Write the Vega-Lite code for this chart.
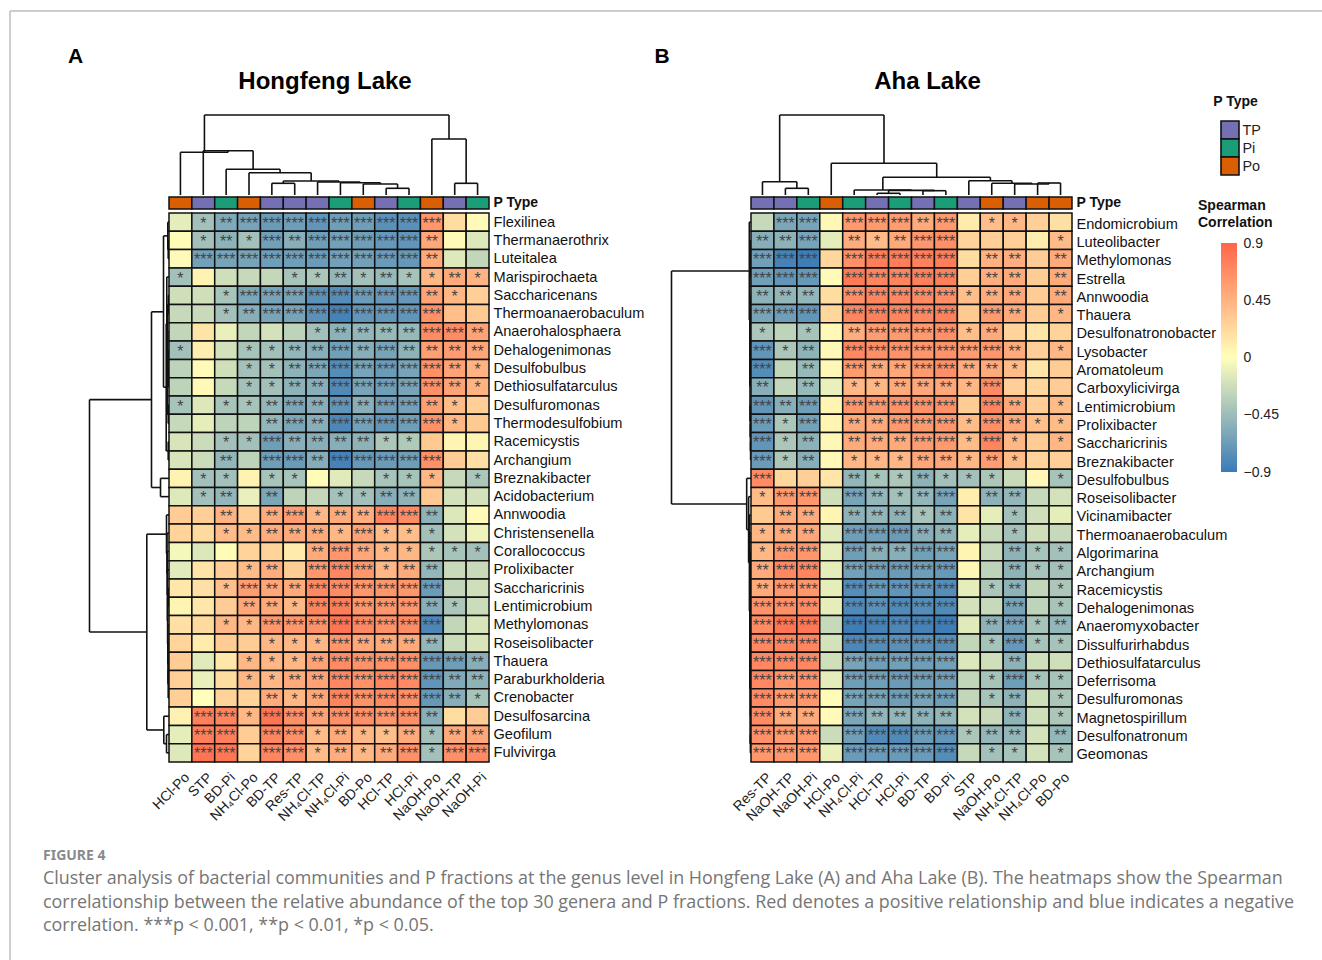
{"$schema":"https://vega.github.io/schema/vega-lite/v6.json","padding":{"left":7,"top":8,"right":0,"bottom":0},"bounds":"flush","spacing":0,"columns":8,"align":"each","config":{"view":{"stroke":null},"axis":{"domain":false,"ticks":false,"grid":false,"title":null,"labelFont":"Liberation Sans"}},
"datasets":{
"sp":[{}],
"hA":[
{"g":"Flexilinea","f":"HCl-Po","r":-0.12},{"g":"Flexilinea","f":"STP","r":-0.42,"s":"*"},{"g":"Flexilinea","f":"BD-Pi","r":-0.58,"s":"**"},{"g":"Flexilinea","f":"NH₄Cl-Po","r":-0.62,"s":"***"},{"g":"Flexilinea","f":"BD-TP","r":-0.68,"s":"***"},{"g":"Flexilinea","f":"Res-TP","r":-0.66,"s":"***"},{"g":"Flexilinea","f":"NH₄Cl-TP","r":-0.72,"s":"***"},{"g":"Flexilinea","f":"NH₄Cl-Pi","r":-0.66,"s":"***"},{"g":"Flexilinea","f":"BD-Po","r":-0.66,"s":"***"},{"g":"Flexilinea","f":"HCl-TP","r":-0.75,"s":"***"},{"g":"Flexilinea","f":"HCl-Pi","r":-0.75,"s":"***"},{"g":"Flexilinea","f":"NaOH-Po","r":0.62,"s":"***"},{"g":"Flexilinea","f":"NaOH-TP","r":0.2},{"g":"Flexilinea","f":"NaOH-Pi","r":0.03},
{"g":"Thermanaerothrix","f":"HCl-Po","r":0.02},{"g":"Thermanaerothrix","f":"STP","r":-0.42,"s":"*"},{"g":"Thermanaerothrix","f":"BD-Pi","r":-0.52,"s":"**"},{"g":"Thermanaerothrix","f":"NH₄Cl-Po","r":-0.42,"s":"*"},{"g":"Thermanaerothrix","f":"BD-TP","r":-0.65,"s":"***"},{"g":"Thermanaerothrix","f":"Res-TP","r":-0.55,"s":"**"},{"g":"Thermanaerothrix","f":"NH₄Cl-TP","r":-0.66,"s":"***"},{"g":"Thermanaerothrix","f":"NH₄Cl-Pi","r":-0.64,"s":"***"},{"g":"Thermanaerothrix","f":"BD-Po","r":-0.66,"s":"***"},{"g":"Thermanaerothrix","f":"HCl-TP","r":-0.7,"s":"***"},{"g":"Thermanaerothrix","f":"HCl-Pi","r":-0.72,"s":"***"},{"g":"Thermanaerothrix","f":"NaOH-Po","r":0.52,"s":"**"},{"g":"Thermanaerothrix","f":"NaOH-TP","r":0.03},{"g":"Thermanaerothrix","f":"NaOH-Pi","r":-0.15},
{"g":"Luteitalea","f":"HCl-Po","r":0.03},{"g":"Luteitalea","f":"STP","r":-0.64,"s":"***"},{"g":"Luteitalea","f":"BD-Pi","r":-0.62,"s":"***"},{"g":"Luteitalea","f":"NH₄Cl-Po","r":-0.62,"s":"***"},{"g":"Luteitalea","f":"BD-TP","r":-0.66,"s":"***"},{"g":"Luteitalea","f":"Res-TP","r":-0.66,"s":"***"},{"g":"Luteitalea","f":"NH₄Cl-TP","r":-0.68,"s":"***"},{"g":"Luteitalea","f":"NH₄Cl-Pi","r":-0.64,"s":"***"},{"g":"Luteitalea","f":"BD-Po","r":-0.64,"s":"***"},{"g":"Luteitalea","f":"HCl-TP","r":-0.68,"s":"***"},{"g":"Luteitalea","f":"HCl-Pi","r":-0.7,"s":"***"},{"g":"Luteitalea","f":"NaOH-Po","r":0.5,"s":"**"},{"g":"Luteitalea","f":"NaOH-TP","r":-0.15},{"g":"Luteitalea","f":"NaOH-Pi","r":-0.28},
{"g":"Marispirochaeta","f":"HCl-Po","r":-0.42,"s":"*"},{"g":"Marispirochaeta","f":"STP","r":0.07},{"g":"Marispirochaeta","f":"BD-Pi","r":-0.22},{"g":"Marispirochaeta","f":"NH₄Cl-Po","r":-0.26},{"g":"Marispirochaeta","f":"BD-TP","r":-0.27},{"g":"Marispirochaeta","f":"Res-TP","r":-0.4,"s":"*"},{"g":"Marispirochaeta","f":"NH₄Cl-TP","r":-0.38,"s":"*"},{"g":"Marispirochaeta","f":"NH₄Cl-Pi","r":-0.5,"s":"**"},{"g":"Marispirochaeta","f":"BD-Po","r":-0.42,"s":"*"},{"g":"Marispirochaeta","f":"HCl-TP","r":-0.48,"s":"**"},{"g":"Marispirochaeta","f":"HCl-Pi","r":-0.4,"s":"*"},{"g":"Marispirochaeta","f":"NaOH-Po","r":0.42,"s":"*"},{"g":"Marispirochaeta","f":"NaOH-TP","r":0.5,"s":"**"},{"g":"Marispirochaeta","f":"NaOH-Pi","r":0.45,"s":"*"},
{"g":"Saccharicenans","f":"HCl-Po","r":-0.22},{"g":"Saccharicenans","f":"STP","r":-0.22},{"g":"Saccharicenans","f":"BD-Pi","r":-0.4,"s":"*"},{"g":"Saccharicenans","f":"NH₄Cl-Po","r":-0.6,"s":"***"},{"g":"Saccharicenans","f":"BD-TP","r":-0.62,"s":"***"},{"g":"Saccharicenans","f":"Res-TP","r":-0.62,"s":"***"},{"g":"Saccharicenans","f":"NH₄Cl-TP","r":-0.75,"s":"***"},{"g":"Saccharicenans","f":"NH₄Cl-Pi","r":-0.78,"s":"***"},{"g":"Saccharicenans","f":"BD-Po","r":-0.68,"s":"***"},{"g":"Saccharicenans","f":"HCl-TP","r":-0.7,"s":"***"},{"g":"Saccharicenans","f":"HCl-Pi","r":-0.7,"s":"***"},{"g":"Saccharicenans","f":"NaOH-Po","r":0.55,"s":"**"},{"g":"Saccharicenans","f":"NaOH-TP","r":0.42,"s":"*"},{"g":"Saccharicenans","f":"NaOH-Pi","r":0.28},
{"g":"Thermoanaerobaculum","f":"HCl-Po","r":-0.26},{"g":"Thermoanaerobaculum","f":"STP","r":-0.25},{"g":"Thermoanaerobaculum","f":"BD-Pi","r":-0.42,"s":"*"},{"g":"Thermoanaerobaculum","f":"NH₄Cl-Po","r":-0.55,"s":"**"},{"g":"Thermoanaerobaculum","f":"BD-TP","r":-0.62,"s":"***"},{"g":"Thermoanaerobaculum","f":"Res-TP","r":-0.62,"s":"***"},{"g":"Thermoanaerobaculum","f":"NH₄Cl-TP","r":-0.75,"s":"***"},{"g":"Thermoanaerobaculum","f":"NH₄Cl-Pi","r":-0.85,"s":"***"},{"g":"Thermoanaerobaculum","f":"BD-Po","r":-0.72,"s":"***"},{"g":"Thermoanaerobaculum","f":"HCl-TP","r":-0.72,"s":"***"},{"g":"Thermoanaerobaculum","f":"HCl-Pi","r":-0.72,"s":"***"},{"g":"Thermoanaerobaculum","f":"NaOH-Po","r":0.65,"s":"***"},{"g":"Thermoanaerobaculum","f":"NaOH-TP","r":0.38},{"g":"Thermoanaerobaculum","f":"NaOH-Pi","r":0.32},
{"g":"Anaerohalosphaera","f":"HCl-Po","r":-0.28},{"g":"Anaerohalosphaera","f":"STP","r":0.16},{"g":"Anaerohalosphaera","f":"BD-Pi","r":-0.1},{"g":"Anaerohalosphaera","f":"NH₄Cl-Po","r":-0.28},{"g":"Anaerohalosphaera","f":"BD-TP","r":-0.2},{"g":"Anaerohalosphaera","f":"Res-TP","r":-0.3},{"g":"Anaerohalosphaera","f":"NH₄Cl-TP","r":-0.42,"s":"*"},{"g":"Anaerohalosphaera","f":"NH₄Cl-Pi","r":-0.52,"s":"**"},{"g":"Anaerohalosphaera","f":"BD-Po","r":-0.5,"s":"**"},{"g":"Anaerohalosphaera","f":"HCl-TP","r":-0.48,"s":"**"},{"g":"Anaerohalosphaera","f":"HCl-Pi","r":-0.48,"s":"**"},{"g":"Anaerohalosphaera","f":"NaOH-Po","r":0.68,"s":"***"},{"g":"Anaerohalosphaera","f":"NaOH-TP","r":0.68,"s":"***"},{"g":"Anaerohalosphaera","f":"NaOH-Pi","r":0.55,"s":"**"},
{"g":"Dehalogenimonas","f":"HCl-Po","r":-0.42,"s":"*"},{"g":"Dehalogenimonas","f":"STP","r":0.1},{"g":"Dehalogenimonas","f":"BD-Pi","r":-0.2},{"g":"Dehalogenimonas","f":"NH₄Cl-Po","r":-0.4,"s":"*"},{"g":"Dehalogenimonas","f":"BD-TP","r":-0.42,"s":"*"},{"g":"Dehalogenimonas","f":"Res-TP","r":-0.5,"s":"**"},{"g":"Dehalogenimonas","f":"NH₄Cl-TP","r":-0.55,"s":"**"},{"g":"Dehalogenimonas","f":"NH₄Cl-Pi","r":-0.65,"s":"***"},{"g":"Dehalogenimonas","f":"BD-Po","r":-0.55,"s":"**"},{"g":"Dehalogenimonas","f":"HCl-TP","r":-0.62,"s":"***"},{"g":"Dehalogenimonas","f":"HCl-Pi","r":-0.52,"s":"**"},{"g":"Dehalogenimonas","f":"NaOH-Po","r":0.56,"s":"**"},{"g":"Dehalogenimonas","f":"NaOH-TP","r":0.58,"s":"**"},{"g":"Dehalogenimonas","f":"NaOH-Pi","r":0.52,"s":"**"},
{"g":"Desulfobulbus","f":"HCl-Po","r":-0.3},{"g":"Desulfobulbus","f":"STP","r":0.03},{"g":"Desulfobulbus","f":"BD-Pi","r":-0.22},{"g":"Desulfobulbus","f":"NH₄Cl-Po","r":-0.42,"s":"*"},{"g":"Desulfobulbus","f":"BD-TP","r":-0.42,"s":"*"},{"g":"Desulfobulbus","f":"Res-TP","r":-0.52,"s":"**"},{"g":"Desulfobulbus","f":"NH₄Cl-TP","r":-0.6,"s":"***"},{"g":"Desulfobulbus","f":"NH₄Cl-Pi","r":-0.78,"s":"***"},{"g":"Desulfobulbus","f":"BD-Po","r":-0.62,"s":"***"},{"g":"Desulfobulbus","f":"HCl-TP","r":-0.68,"s":"***"},{"g":"Desulfobulbus","f":"HCl-Pi","r":-0.62,"s":"***"},{"g":"Desulfobulbus","f":"NaOH-Po","r":0.65,"s":"***"},{"g":"Desulfobulbus","f":"NaOH-TP","r":0.55,"s":"**"},{"g":"Desulfobulbus","f":"NaOH-Pi","r":0.45,"s":"*"},
{"g":"Dethiosulfatarculus","f":"HCl-Po","r":-0.3},{"g":"Dethiosulfatarculus","f":"STP","r":0.04},{"g":"Dethiosulfatarculus","f":"BD-Pi","r":-0.26},{"g":"Dethiosulfatarculus","f":"NH₄Cl-Po","r":-0.42,"s":"*"},{"g":"Dethiosulfatarculus","f":"BD-TP","r":-0.42,"s":"*"},{"g":"Dethiosulfatarculus","f":"Res-TP","r":-0.52,"s":"**"},{"g":"Dethiosulfatarculus","f":"NH₄Cl-TP","r":-0.55,"s":"**"},{"g":"Dethiosulfatarculus","f":"NH₄Cl-Pi","r":-0.8,"s":"***"},{"g":"Dethiosulfatarculus","f":"BD-Po","r":-0.62,"s":"***"},{"g":"Dethiosulfatarculus","f":"HCl-TP","r":-0.66,"s":"***"},{"g":"Dethiosulfatarculus","f":"HCl-Pi","r":-0.62,"s":"***"},{"g":"Dethiosulfatarculus","f":"NaOH-Po","r":0.66,"s":"***"},{"g":"Dethiosulfatarculus","f":"NaOH-TP","r":0.55,"s":"**"},{"g":"Dethiosulfatarculus","f":"NaOH-Pi","r":0.45,"s":"*"},
{"g":"Desulfuromonas","f":"HCl-Po","r":-0.4,"s":"*"},{"g":"Desulfuromonas","f":"STP","r":-0.16},{"g":"Desulfuromonas","f":"BD-Pi","r":-0.4,"s":"*"},{"g":"Desulfuromonas","f":"NH₄Cl-Po","r":-0.4,"s":"*"},{"g":"Desulfuromonas","f":"BD-TP","r":-0.5,"s":"**"},{"g":"Desulfuromonas","f":"Res-TP","r":-0.6,"s":"***"},{"g":"Desulfuromonas","f":"NH₄Cl-TP","r":-0.55,"s":"**"},{"g":"Desulfuromonas","f":"NH₄Cl-Pi","r":-0.72,"s":"***"},{"g":"Desulfuromonas","f":"BD-Po","r":-0.55,"s":"**"},{"g":"Desulfuromonas","f":"HCl-TP","r":-0.66,"s":"***"},{"g":"Desulfuromonas","f":"HCl-Pi","r":-0.64,"s":"***"},{"g":"Desulfuromonas","f":"NaOH-Po","r":0.56,"s":"**"},{"g":"Desulfuromonas","f":"NaOH-TP","r":0.4,"s":"*"},{"g":"Desulfuromonas","f":"NaOH-Pi","r":0.28},
{"g":"Thermodesulfobium","f":"HCl-Po","r":-0.26},{"g":"Thermodesulfobium","f":"STP","r":-0.12},{"g":"Thermodesulfobium","f":"BD-Pi","r":-0.3},{"g":"Thermodesulfobium","f":"NH₄Cl-Po","r":-0.3},{"g":"Thermodesulfobium","f":"BD-TP","r":-0.5,"s":"**"},{"g":"Thermodesulfobium","f":"Res-TP","r":-0.6,"s":"***"},{"g":"Thermodesulfobium","f":"NH₄Cl-TP","r":-0.55,"s":"**"},{"g":"Thermodesulfobium","f":"NH₄Cl-Pi","r":-0.82,"s":"***"},{"g":"Thermodesulfobium","f":"BD-Po","r":-0.64,"s":"***"},{"g":"Thermodesulfobium","f":"HCl-TP","r":-0.72,"s":"***"},{"g":"Thermodesulfobium","f":"HCl-Pi","r":-0.66,"s":"***"},{"g":"Thermodesulfobium","f":"NaOH-Po","r":0.65,"s":"***"},{"g":"Thermodesulfobium","f":"NaOH-TP","r":0.42,"s":"*"},{"g":"Thermodesulfobium","f":"NaOH-Pi","r":0.32},
{"g":"Racemicystis","f":"HCl-Po","r":-0.18},{"g":"Racemicystis","f":"STP","r":-0.24},{"g":"Racemicystis","f":"BD-Pi","r":-0.42,"s":"*"},{"g":"Racemicystis","f":"NH₄Cl-Po","r":-0.42,"s":"*"},{"g":"Racemicystis","f":"BD-TP","r":-0.66,"s":"***"},{"g":"Racemicystis","f":"Res-TP","r":-0.55,"s":"**"},{"g":"Racemicystis","f":"NH₄Cl-TP","r":-0.55,"s":"**"},{"g":"Racemicystis","f":"NH₄Cl-Pi","r":-0.55,"s":"**"},{"g":"Racemicystis","f":"BD-Po","r":-0.52,"s":"**"},{"g":"Racemicystis","f":"HCl-TP","r":-0.38,"s":"*"},{"g":"Racemicystis","f":"HCl-Pi","r":-0.36,"s":"*"},{"g":"Racemicystis","f":"NaOH-Po","r":0.32},{"g":"Racemicystis","f":"NaOH-TP","r":0.06},{"g":"Racemicystis","f":"NaOH-Pi","r":0.06},
{"g":"Archangium","f":"HCl-Po","r":-0.18},{"g":"Archangium","f":"STP","r":-0.24},{"g":"Archangium","f":"BD-Pi","r":-0.5,"s":"**"},{"g":"Archangium","f":"NH₄Cl-Po","r":-0.3},{"g":"Archangium","f":"BD-TP","r":-0.66,"s":"***"},{"g":"Archangium","f":"Res-TP","r":-0.68,"s":"***"},{"g":"Archangium","f":"NH₄Cl-TP","r":-0.56,"s":"**"},{"g":"Archangium","f":"NH₄Cl-Pi","r":-0.85,"s":"***"},{"g":"Archangium","f":"BD-Po","r":-0.7,"s":"***"},{"g":"Archangium","f":"HCl-TP","r":-0.68,"s":"***"},{"g":"Archangium","f":"HCl-Pi","r":-0.66,"s":"***"},{"g":"Archangium","f":"NaOH-Po","r":0.65,"s":"***"},{"g":"Archangium","f":"NaOH-TP","r":0.3},{"g":"Archangium","f":"NaOH-Pi","r":0.18},
{"g":"Breznakibacter","f":"HCl-Po","r":0.07},{"g":"Breznakibacter","f":"STP","r":-0.42,"s":"*"},{"g":"Breznakibacter","f":"BD-Pi","r":-0.42,"s":"*"},{"g":"Breznakibacter","f":"NH₄Cl-Po","r":0.07},{"g":"Breznakibacter","f":"BD-TP","r":-0.4,"s":"*"},{"g":"Breznakibacter","f":"Res-TP","r":-0.4,"s":"*"},{"g":"Breznakibacter","f":"NH₄Cl-TP","r":0.02},{"g":"Breznakibacter","f":"NH₄Cl-Pi","r":-0.14},{"g":"Breznakibacter","f":"BD-Po","r":-0.26},{"g":"Breznakibacter","f":"HCl-TP","r":-0.4,"s":"*"},{"g":"Breznakibacter","f":"HCl-Pi","r":-0.4,"s":"*"},{"g":"Breznakibacter","f":"NaOH-Po","r":0.42,"s":"*"},{"g":"Breznakibacter","f":"NaOH-TP","r":-0.26},{"g":"Breznakibacter","f":"NaOH-Pi","r":-0.38,"s":"*"},
{"g":"Acidobacterium","f":"HCl-Po","r":-0.15},{"g":"Acidobacterium","f":"STP","r":-0.42,"s":"*"},{"g":"Acidobacterium","f":"BD-Pi","r":-0.5,"s":"**"},{"g":"Acidobacterium","f":"NH₄Cl-Po","r":-0.1},{"g":"Acidobacterium","f":"BD-TP","r":-0.6,"s":"**"},{"g":"Acidobacterium","f":"Res-TP","r":-0.3},{"g":"Acidobacterium","f":"NH₄Cl-TP","r":-0.27},{"g":"Acidobacterium","f":"NH₄Cl-Pi","r":-0.42,"s":"*"},{"g":"Acidobacterium","f":"BD-Po","r":-0.42,"s":"*"},{"g":"Acidobacterium","f":"HCl-TP","r":-0.55,"s":"**"},{"g":"Acidobacterium","f":"HCl-Pi","r":-0.52,"s":"**"},{"g":"Acidobacterium","f":"NaOH-Po","r":0.33},{"g":"Acidobacterium","f":"NaOH-TP","r":-0.2},{"g":"Acidobacterium","f":"NaOH-Pi","r":-0.2},
{"g":"Annwoodia","f":"HCl-Po","r":0.3},{"g":"Annwoodia","f":"STP","r":0.28},{"g":"Annwoodia","f":"BD-Pi","r":0.45,"s":"**"},{"g":"Annwoodia","f":"NH₄Cl-Po","r":0.28},{"g":"Annwoodia","f":"BD-TP","r":0.5,"s":"**"},{"g":"Annwoodia","f":"Res-TP","r":0.58,"s":"***"},{"g":"Annwoodia","f":"NH₄Cl-TP","r":0.42,"s":"*"},{"g":"Annwoodia","f":"NH₄Cl-Pi","r":0.5,"s":"**"},{"g":"Annwoodia","f":"BD-Po","r":0.48,"s":"**"},{"g":"Annwoodia","f":"HCl-TP","r":0.72,"s":"***"},{"g":"Annwoodia","f":"HCl-Pi","r":0.68,"s":"***"},{"g":"Annwoodia","f":"NaOH-Po","r":-0.52,"s":"**"},{"g":"Annwoodia","f":"NaOH-TP","r":-0.16},{"g":"Annwoodia","f":"NaOH-Pi","r":0.03},
{"g":"Christensenella","f":"HCl-Po","r":0.26},{"g":"Christensenella","f":"STP","r":0.22},{"g":"Christensenella","f":"BD-Pi","r":0.4,"s":"*"},{"g":"Christensenella","f":"NH₄Cl-Po","r":0.4,"s":"*"},{"g":"Christensenella","f":"BD-TP","r":0.48,"s":"**"},{"g":"Christensenella","f":"Res-TP","r":0.5,"s":"**"},{"g":"Christensenella","f":"NH₄Cl-TP","r":0.5,"s":"**"},{"g":"Christensenella","f":"NH₄Cl-Pi","r":0.42,"s":"*"},{"g":"Christensenella","f":"BD-Po","r":0.55,"s":"***"},{"g":"Christensenella","f":"HCl-TP","r":0.4,"s":"*"},{"g":"Christensenella","f":"HCl-Pi","r":0.38,"s":"*"},{"g":"Christensenella","f":"NaOH-Po","r":-0.42,"s":"*"},{"g":"Christensenella","f":"NaOH-TP","r":-0.2},{"g":"Christensenella","f":"NaOH-Pi","r":-0.08},
{"g":"Corallococcus","f":"HCl-Po","r":-0.05},{"g":"Corallococcus","f":"STP","r":-0.16},{"g":"Corallococcus","f":"BD-Pi","r":0.02},{"g":"Corallococcus","f":"NH₄Cl-Po","r":0.26},{"g":"Corallococcus","f":"BD-TP","r":0.26},{"g":"Corallococcus","f":"Res-TP","r":0.12},{"g":"Corallococcus","f":"NH₄Cl-TP","r":0.5,"s":"**"},{"g":"Corallococcus","f":"NH₄Cl-Pi","r":0.62,"s":"***"},{"g":"Corallococcus","f":"BD-Po","r":0.52,"s":"**"},{"g":"Corallococcus","f":"HCl-TP","r":0.42,"s":"*"},{"g":"Corallococcus","f":"HCl-Pi","r":0.42,"s":"*"},{"g":"Corallococcus","f":"NaOH-Po","r":-0.38,"s":"*"},{"g":"Corallococcus","f":"NaOH-TP","r":-0.4,"s":"*"},{"g":"Corallococcus","f":"NaOH-Pi","r":-0.42,"s":"*"},
{"g":"Prolixibacter","f":"HCl-Po","r":-0.14},{"g":"Prolixibacter","f":"STP","r":0.16},{"g":"Prolixibacter","f":"BD-Pi","r":0.28},{"g":"Prolixibacter","f":"NH₄Cl-Po","r":0.4,"s":"*"},{"g":"Prolixibacter","f":"BD-TP","r":0.48,"s":"**"},{"g":"Prolixibacter","f":"Res-TP","r":0.3},{"g":"Prolixibacter","f":"NH₄Cl-TP","r":0.62,"s":"***"},{"g":"Prolixibacter","f":"NH₄Cl-Pi","r":0.7,"s":"***"},{"g":"Prolixibacter","f":"BD-Po","r":0.62,"s":"***"},{"g":"Prolixibacter","f":"HCl-TP","r":0.42,"s":"*"},{"g":"Prolixibacter","f":"HCl-Pi","r":0.5,"s":"**"},{"g":"Prolixibacter","f":"NaOH-Po","r":-0.5,"s":"**"},{"g":"Prolixibacter","f":"NaOH-TP","r":-0.25},{"g":"Prolixibacter","f":"NaOH-Pi","r":-0.25},
{"g":"Saccharicrinis","f":"HCl-Po","r":0.14},{"g":"Saccharicrinis","f":"STP","r":0.18},{"g":"Saccharicrinis","f":"BD-Pi","r":0.38,"s":"*"},{"g":"Saccharicrinis","f":"NH₄Cl-Po","r":0.58,"s":"***"},{"g":"Saccharicrinis","f":"BD-TP","r":0.52,"s":"**"},{"g":"Saccharicrinis","f":"Res-TP","r":0.5,"s":"**"},{"g":"Saccharicrinis","f":"NH₄Cl-TP","r":0.7,"s":"***"},{"g":"Saccharicrinis","f":"NH₄Cl-Pi","r":0.68,"s":"***"},{"g":"Saccharicrinis","f":"BD-Po","r":0.62,"s":"***"},{"g":"Saccharicrinis","f":"HCl-TP","r":0.62,"s":"***"},{"g":"Saccharicrinis","f":"HCl-Pi","r":0.62,"s":"***"},{"g":"Saccharicrinis","f":"NaOH-Po","r":-0.68,"s":"***"},{"g":"Saccharicrinis","f":"NaOH-TP","r":-0.28},{"g":"Saccharicrinis","f":"NaOH-Pi","r":-0.22},
{"g":"Lentimicrobium","f":"HCl-Po","r":0.06},{"g":"Lentimicrobium","f":"STP","r":0.14},{"g":"Lentimicrobium","f":"BD-Pi","r":0.3},{"g":"Lentimicrobium","f":"NH₄Cl-Po","r":0.52,"s":"**"},{"g":"Lentimicrobium","f":"BD-TP","r":0.5,"s":"**"},{"g":"Lentimicrobium","f":"Res-TP","r":0.42,"s":"*"},{"g":"Lentimicrobium","f":"NH₄Cl-TP","r":0.72,"s":"***"},{"g":"Lentimicrobium","f":"NH₄Cl-Pi","r":0.76,"s":"***"},{"g":"Lentimicrobium","f":"BD-Po","r":0.62,"s":"***"},{"g":"Lentimicrobium","f":"HCl-TP","r":0.62,"s":"***"},{"g":"Lentimicrobium","f":"HCl-Pi","r":0.62,"s":"***"},{"g":"Lentimicrobium","f":"NaOH-Po","r":-0.55,"s":"**"},{"g":"Lentimicrobium","f":"NaOH-TP","r":-0.38,"s":"*"},{"g":"Lentimicrobium","f":"NaOH-Pi","r":-0.24},
{"g":"Methylomonas","f":"HCl-Po","r":0.18},{"g":"Methylomonas","f":"STP","r":0.22},{"g":"Methylomonas","f":"BD-Pi","r":0.42,"s":"*"},{"g":"Methylomonas","f":"NH₄Cl-Po","r":0.42,"s":"*"},{"g":"Methylomonas","f":"BD-TP","r":0.62,"s":"***"},{"g":"Methylomonas","f":"Res-TP","r":0.62,"s":"***"},{"g":"Methylomonas","f":"NH₄Cl-TP","r":0.65,"s":"***"},{"g":"Methylomonas","f":"NH₄Cl-Pi","r":0.82,"s":"***"},{"g":"Methylomonas","f":"BD-Po","r":0.7,"s":"***"},{"g":"Methylomonas","f":"HCl-TP","r":0.65,"s":"***"},{"g":"Methylomonas","f":"HCl-Pi","r":0.68,"s":"***"},{"g":"Methylomonas","f":"NaOH-Po","r":-0.82,"s":"***"},{"g":"Methylomonas","f":"NaOH-TP","r":-0.28},{"g":"Methylomonas","f":"NaOH-Pi","r":-0.18},
{"g":"Roseisolibacter","f":"HCl-Po","r":0.25},{"g":"Roseisolibacter","f":"STP","r":0.12},{"g":"Roseisolibacter","f":"BD-Pi","r":0.3},{"g":"Roseisolibacter","f":"NH₄Cl-Po","r":0.3},{"g":"Roseisolibacter","f":"BD-TP","r":0.42,"s":"*"},{"g":"Roseisolibacter","f":"Res-TP","r":0.42,"s":"*"},{"g":"Roseisolibacter","f":"NH₄Cl-TP","r":0.42,"s":"*"},{"g":"Roseisolibacter","f":"NH₄Cl-Pi","r":0.62,"s":"***"},{"g":"Roseisolibacter","f":"BD-Po","r":0.52,"s":"**"},{"g":"Roseisolibacter","f":"HCl-TP","r":0.5,"s":"**"},{"g":"Roseisolibacter","f":"HCl-Pi","r":0.5,"s":"**"},{"g":"Roseisolibacter","f":"NaOH-Po","r":-0.5,"s":"**"},{"g":"Roseisolibacter","f":"NaOH-TP","r":-0.24},{"g":"Roseisolibacter","f":"NaOH-Pi","r":-0.18},
{"g":"Thauera","f":"HCl-Po","r":0.3},{"g":"Thauera","f":"STP","r":-0.14},{"g":"Thauera","f":"BD-Pi","r":0.14},{"g":"Thauera","f":"NH₄Cl-Po","r":0.42,"s":"*"},{"g":"Thauera","f":"BD-TP","r":0.42,"s":"*"},{"g":"Thauera","f":"Res-TP","r":0.42,"s":"*"},{"g":"Thauera","f":"NH₄Cl-TP","r":0.55,"s":"**"},{"g":"Thauera","f":"NH₄Cl-Pi","r":0.68,"s":"***"},{"g":"Thauera","f":"BD-Po","r":0.64,"s":"***"},{"g":"Thauera","f":"HCl-TP","r":0.64,"s":"***"},{"g":"Thauera","f":"HCl-Pi","r":0.66,"s":"***"},{"g":"Thauera","f":"NaOH-Po","r":-0.7,"s":"***"},{"g":"Thauera","f":"NaOH-TP","r":-0.66,"s":"***"},{"g":"Thauera","f":"NaOH-Pi","r":-0.55,"s":"**"},
{"g":"Paraburkholderia","f":"HCl-Po","r":0.28},{"g":"Paraburkholderia","f":"STP","r":-0.1},{"g":"Paraburkholderia","f":"BD-Pi","r":0.2},{"g":"Paraburkholderia","f":"NH₄Cl-Po","r":0.42,"s":"*"},{"g":"Paraburkholderia","f":"BD-TP","r":0.42,"s":"*"},{"g":"Paraburkholderia","f":"Res-TP","r":0.5,"s":"**"},{"g":"Paraburkholderia","f":"NH₄Cl-TP","r":0.55,"s":"**"},{"g":"Paraburkholderia","f":"NH₄Cl-Pi","r":0.7,"s":"***"},{"g":"Paraburkholderia","f":"BD-Po","r":0.64,"s":"***"},{"g":"Paraburkholderia","f":"HCl-TP","r":0.7,"s":"***"},{"g":"Paraburkholderia","f":"HCl-Pi","r":0.68,"s":"***"},{"g":"Paraburkholderia","f":"NaOH-Po","r":-0.72,"s":"***"},{"g":"Paraburkholderia","f":"NaOH-TP","r":-0.58,"s":"**"},{"g":"Paraburkholderia","f":"NaOH-Pi","r":-0.52,"s":"**"},
{"g":"Crenobacter","f":"HCl-Po","r":0.28},{"g":"Crenobacter","f":"STP","r":0},{"g":"Crenobacter","f":"BD-Pi","r":0.26},{"g":"Crenobacter","f":"NH₄Cl-Po","r":0.26},{"g":"Crenobacter","f":"BD-TP","r":0.5,"s":"**"},{"g":"Crenobacter","f":"Res-TP","r":0.42,"s":"*"},{"g":"Crenobacter","f":"NH₄Cl-TP","r":0.52,"s":"**"},{"g":"Crenobacter","f":"NH₄Cl-Pi","r":0.72,"s":"***"},{"g":"Crenobacter","f":"BD-Po","r":0.64,"s":"***"},{"g":"Crenobacter","f":"HCl-TP","r":0.68,"s":"***"},{"g":"Crenobacter","f":"HCl-Pi","r":0.66,"s":"***"},{"g":"Crenobacter","f":"NaOH-Po","r":-0.7,"s":"***"},{"g":"Crenobacter","f":"NaOH-TP","r":-0.55,"s":"**"},{"g":"Crenobacter","f":"NaOH-Pi","r":-0.4,"s":"*"},
{"g":"Desulfosarcina","f":"HCl-Po","r":0.08},{"g":"Desulfosarcina","f":"STP","r":0.75,"s":"***"},{"g":"Desulfosarcina","f":"BD-Pi","r":0.72,"s":"***"},{"g":"Desulfosarcina","f":"NH₄Cl-Po","r":0.42,"s":"*"},{"g":"Desulfosarcina","f":"BD-TP","r":0.82,"s":"***"},{"g":"Desulfosarcina","f":"Res-TP","r":0.66,"s":"***"},{"g":"Desulfosarcina","f":"NH₄Cl-TP","r":0.55,"s":"**"},{"g":"Desulfosarcina","f":"NH₄Cl-Pi","r":0.66,"s":"***"},{"g":"Desulfosarcina","f":"BD-Po","r":0.66,"s":"***"},{"g":"Desulfosarcina","f":"HCl-TP","r":0.62,"s":"***"},{"g":"Desulfosarcina","f":"HCl-Pi","r":0.66,"s":"***"},{"g":"Desulfosarcina","f":"NaOH-Po","r":-0.55,"s":"**"},{"g":"Desulfosarcina","f":"NaOH-TP","r":0.2},{"g":"Desulfosarcina","f":"NaOH-Pi","r":0.3},
{"g":"Geofilum","f":"HCl-Po","r":-0.12},{"g":"Geofilum","f":"STP","r":0.75,"s":"***"},{"g":"Geofilum","f":"BD-Pi","r":0.75,"s":"***"},{"g":"Geofilum","f":"NH₄Cl-Po","r":0.3},{"g":"Geofilum","f":"BD-TP","r":0.72,"s":"***"},{"g":"Geofilum","f":"Res-TP","r":0.66,"s":"***"},{"g":"Geofilum","f":"NH₄Cl-TP","r":0.4,"s":"*"},{"g":"Geofilum","f":"NH₄Cl-Pi","r":0.5,"s":"**"},{"g":"Geofilum","f":"BD-Po","r":0.42,"s":"*"},{"g":"Geofilum","f":"HCl-TP","r":0.38,"s":"*"},{"g":"Geofilum","f":"HCl-Pi","r":0.5,"s":"**"},{"g":"Geofilum","f":"NaOH-Po","r":-0.42,"s":"*"},{"g":"Geofilum","f":"NaOH-TP","r":0.5,"s":"**"},{"g":"Geofilum","f":"NaOH-Pi","r":0.52,"s":"**"},
{"g":"Fulvivirga","f":"HCl-Po","r":-0.15},{"g":"Fulvivirga","f":"STP","r":0.82,"s":"***"},{"g":"Fulvivirga","f":"BD-Pi","r":0.8,"s":"***"},{"g":"Fulvivirga","f":"NH₄Cl-Po","r":0.26},{"g":"Fulvivirga","f":"BD-TP","r":0.72,"s":"***"},{"g":"Fulvivirga","f":"Res-TP","r":0.66,"s":"***"},{"g":"Fulvivirga","f":"NH₄Cl-TP","r":0.4,"s":"*"},{"g":"Fulvivirga","f":"NH₄Cl-Pi","r":0.48,"s":"**"},{"g":"Fulvivirga","f":"BD-Po","r":0.42,"s":"*"},{"g":"Fulvivirga","f":"HCl-TP","r":0.5,"s":"**"},{"g":"Fulvivirga","f":"HCl-Pi","r":0.65,"s":"***"},{"g":"Fulvivirga","f":"NaOH-Po","r":-0.42,"s":"*"},{"g":"Fulvivirga","f":"NaOH-TP","r":0.66,"s":"***"},{"g":"Fulvivirga","f":"NaOH-Pi","r":0.68,"s":"***"}],
"hB":[
{"g":"Endomicrobium","f":"Res-TP","r":-0.26},{"g":"Endomicrobium","f":"NaOH-TP","r":-0.6,"s":"***"},{"g":"Endomicrobium","f":"NaOH-Pi","r":-0.62,"s":"***"},{"g":"Endomicrobium","f":"HCl-Po","r":0.05},{"g":"Endomicrobium","f":"NH₄Cl-Pi","r":0.6,"s":"***"},{"g":"Endomicrobium","f":"HCl-TP","r":0.6,"s":"***"},{"g":"Endomicrobium","f":"HCl-Pi","r":0.58,"s":"***"},{"g":"Endomicrobium","f":"BD-TP","r":0.5,"s":"**"},{"g":"Endomicrobium","f":"BD-Pi","r":0.6,"s":"***"},{"g":"Endomicrobium","f":"STP","r":0.12},{"g":"Endomicrobium","f":"NaOH-Po","r":0.38,"s":"*"},{"g":"Endomicrobium","f":"NH₄Cl-TP","r":0.42,"s":"*"},{"g":"Endomicrobium","f":"NH₄Cl-Po","r":0.28},{"g":"Endomicrobium","f":"BD-Po","r":0.18},
{"g":"Luteolibacter","f":"Res-TP","r":-0.55,"s":"**"},{"g":"Luteolibacter","f":"NaOH-TP","r":-0.52,"s":"**"},{"g":"Luteolibacter","f":"NaOH-Pi","r":-0.62,"s":"***"},{"g":"Luteolibacter","f":"HCl-Po","r":-0.12},{"g":"Luteolibacter","f":"NH₄Cl-Pi","r":0.48,"s":"**"},{"g":"Luteolibacter","f":"HCl-TP","r":0.4,"s":"*"},{"g":"Luteolibacter","f":"HCl-Pi","r":0.5,"s":"**"},{"g":"Luteolibacter","f":"BD-TP","r":0.62,"s":"***"},{"g":"Luteolibacter","f":"BD-Pi","r":0.66,"s":"***"},{"g":"Luteolibacter","f":"STP","r":0.26},{"g":"Luteolibacter","f":"NaOH-Po","r":0.28},{"g":"Luteolibacter","f":"NH₄Cl-TP","r":0.28},{"g":"Luteolibacter","f":"NH₄Cl-Po","r":0.1},{"g":"Luteolibacter","f":"BD-Po","r":0.4,"s":"*"},
{"g":"Methylomonas","f":"Res-TP","r":-0.65,"s":"***"},{"g":"Methylomonas","f":"NaOH-TP","r":-0.85,"s":"***"},{"g":"Methylomonas","f":"NaOH-Pi","r":-0.88,"s":"***"},{"g":"Methylomonas","f":"HCl-Po","r":0.24},{"g":"Methylomonas","f":"NH₄Cl-Pi","r":0.66,"s":"***"},{"g":"Methylomonas","f":"HCl-TP","r":0.76,"s":"***"},{"g":"Methylomonas","f":"HCl-Pi","r":0.76,"s":"***"},{"g":"Methylomonas","f":"BD-TP","r":0.74,"s":"***"},{"g":"Methylomonas","f":"BD-Pi","r":0.76,"s":"***"},{"g":"Methylomonas","f":"STP","r":0.2},{"g":"Methylomonas","f":"NaOH-Po","r":0.46,"s":"**"},{"g":"Methylomonas","f":"NH₄Cl-TP","r":0.48,"s":"**"},{"g":"Methylomonas","f":"NH₄Cl-Po","r":0.3},{"g":"Methylomonas","f":"BD-Po","r":0.5,"s":"**"},
{"g":"Estrella","f":"Res-TP","r":-0.65,"s":"***"},{"g":"Estrella","f":"NaOH-TP","r":-0.72,"s":"***"},{"g":"Estrella","f":"NaOH-Pi","r":-0.7,"s":"***"},{"g":"Estrella","f":"HCl-Po","r":0.03},{"g":"Estrella","f":"NH₄Cl-Pi","r":0.78,"s":"***"},{"g":"Estrella","f":"HCl-TP","r":0.72,"s":"***"},{"g":"Estrella","f":"HCl-Pi","r":0.72,"s":"***"},{"g":"Estrella","f":"BD-TP","r":0.74,"s":"***"},{"g":"Estrella","f":"BD-Pi","r":0.74,"s":"***"},{"g":"Estrella","f":"STP","r":0.28},{"g":"Estrella","f":"NaOH-Po","r":0.48,"s":"**"},{"g":"Estrella","f":"NH₄Cl-TP","r":0.5,"s":"**"},{"g":"Estrella","f":"NH₄Cl-Po","r":0.3},{"g":"Estrella","f":"BD-Po","r":0.5,"s":"**"},
{"g":"Annwoodia","f":"Res-TP","r":-0.52,"s":"**"},{"g":"Annwoodia","f":"NaOH-TP","r":-0.5,"s":"**"},{"g":"Annwoodia","f":"NaOH-Pi","r":-0.5,"s":"**"},{"g":"Annwoodia","f":"HCl-Po","r":0.2},{"g":"Annwoodia","f":"NH₄Cl-Pi","r":0.66,"s":"***"},{"g":"Annwoodia","f":"HCl-TP","r":0.72,"s":"***"},{"g":"Annwoodia","f":"HCl-Pi","r":0.7,"s":"***"},{"g":"Annwoodia","f":"BD-TP","r":0.68,"s":"***"},{"g":"Annwoodia","f":"BD-Pi","r":0.66,"s":"***"},{"g":"Annwoodia","f":"STP","r":0.38,"s":"*"},{"g":"Annwoodia","f":"NaOH-Po","r":0.48,"s":"**"},{"g":"Annwoodia","f":"NH₄Cl-TP","r":0.52,"s":"**"},{"g":"Annwoodia","f":"NH₄Cl-Po","r":0.3},{"g":"Annwoodia","f":"BD-Po","r":0.5,"s":"**"},
{"g":"Thauera","f":"Res-TP","r":-0.62,"s":"***"},{"g":"Thauera","f":"NaOH-TP","r":-0.66,"s":"***"},{"g":"Thauera","f":"NaOH-Pi","r":-0.72,"s":"***"},{"g":"Thauera","f":"HCl-Po","r":0.24},{"g":"Thauera","f":"NH₄Cl-Pi","r":0.72,"s":"***"},{"g":"Thauera","f":"HCl-TP","r":0.74,"s":"***"},{"g":"Thauera","f":"HCl-Pi","r":0.72,"s":"***"},{"g":"Thauera","f":"BD-TP","r":0.7,"s":"***"},{"g":"Thauera","f":"BD-Pi","r":0.74,"s":"***"},{"g":"Thauera","f":"STP","r":0.32},{"g":"Thauera","f":"NaOH-Po","r":0.6,"s":"***"},{"g":"Thauera","f":"NH₄Cl-TP","r":0.5,"s":"**"},{"g":"Thauera","f":"NH₄Cl-Po","r":0.3},{"g":"Thauera","f":"BD-Po","r":0.42,"s":"*"},
{"g":"Desulfonatronobacter","f":"Res-TP","r":-0.38,"s":"*"},{"g":"Desulfonatronobacter","f":"NaOH-TP","r":-0.3},{"g":"Desulfonatronobacter","f":"NaOH-Pi","r":-0.4,"s":"*"},{"g":"Desulfonatronobacter","f":"HCl-Po","r":0.04},{"g":"Desulfonatronobacter","f":"NH₄Cl-Pi","r":0.48,"s":"**"},{"g":"Desulfonatronobacter","f":"HCl-TP","r":0.58,"s":"***"},{"g":"Desulfonatronobacter","f":"HCl-Pi","r":0.6,"s":"***"},{"g":"Desulfonatronobacter","f":"BD-TP","r":0.6,"s":"***"},{"g":"Desulfonatronobacter","f":"BD-Pi","r":0.66,"s":"***"},{"g":"Desulfonatronobacter","f":"STP","r":0.38,"s":"*"},{"g":"Desulfonatronobacter","f":"NaOH-Po","r":0.5,"s":"**"},{"g":"Desulfonatronobacter","f":"NH₄Cl-TP","r":0.26},{"g":"Desulfonatronobacter","f":"NH₄Cl-Po","r":0.15},{"g":"Desulfonatronobacter","f":"BD-Po","r":0.26},
{"g":"Lysobacter","f":"Res-TP","r":-0.72,"s":"***"},{"g":"Lysobacter","f":"NaOH-TP","r":-0.38,"s":"*"},{"g":"Lysobacter","f":"NaOH-Pi","r":-0.52,"s":"**"},{"g":"Lysobacter","f":"HCl-Po","r":0.04},{"g":"Lysobacter","f":"NH₄Cl-Pi","r":0.7,"s":"***"},{"g":"Lysobacter","f":"HCl-TP","r":0.66,"s":"***"},{"g":"Lysobacter","f":"HCl-Pi","r":0.64,"s":"***"},{"g":"Lysobacter","f":"BD-TP","r":0.62,"s":"***"},{"g":"Lysobacter","f":"BD-Pi","r":0.64,"s":"***"},{"g":"Lysobacter","f":"STP","r":0.58,"s":"***"},{"g":"Lysobacter","f":"NaOH-Po","r":0.62,"s":"***"},{"g":"Lysobacter","f":"NH₄Cl-TP","r":0.5,"s":"**"},{"g":"Lysobacter","f":"NH₄Cl-Po","r":0.28},{"g":"Lysobacter","f":"BD-Po","r":0.42,"s":"*"},
{"g":"Aromatoleum","f":"Res-TP","r":-0.78,"s":"***"},{"g":"Aromatoleum","f":"NaOH-TP","r":-0.28},{"g":"Aromatoleum","f":"NaOH-Pi","r":-0.48,"s":"**"},{"g":"Aromatoleum","f":"HCl-Po","r":0.05},{"g":"Aromatoleum","f":"NH₄Cl-Pi","r":0.6,"s":"***"},{"g":"Aromatoleum","f":"HCl-TP","r":0.5,"s":"**"},{"g":"Aromatoleum","f":"HCl-Pi","r":0.52,"s":"**"},{"g":"Aromatoleum","f":"BD-TP","r":0.6,"s":"***"},{"g":"Aromatoleum","f":"BD-Pi","r":0.66,"s":"***"},{"g":"Aromatoleum","f":"STP","r":0.48,"s":"**"},{"g":"Aromatoleum","f":"NaOH-Po","r":0.5,"s":"**"},{"g":"Aromatoleum","f":"NH₄Cl-TP","r":0.4,"s":"*"},{"g":"Aromatoleum","f":"NH₄Cl-Po","r":0.15},{"g":"Aromatoleum","f":"BD-Po","r":0.3},
{"g":"Carboxylicivirga","f":"Res-TP","r":-0.55,"s":"**"},{"g":"Carboxylicivirga","f":"NaOH-TP","r":-0.27},{"g":"Carboxylicivirga","f":"NaOH-Pi","r":-0.48,"s":"**"},{"g":"Carboxylicivirga","f":"HCl-Po","r":-0.1},{"g":"Carboxylicivirga","f":"NH₄Cl-Pi","r":0.42,"s":"*"},{"g":"Carboxylicivirga","f":"HCl-TP","r":0.42,"s":"*"},{"g":"Carboxylicivirga","f":"HCl-Pi","r":0.5,"s":"**"},{"g":"Carboxylicivirga","f":"BD-TP","r":0.52,"s":"**"},{"g":"Carboxylicivirga","f":"BD-Pi","r":0.52,"s":"**"},{"g":"Carboxylicivirga","f":"STP","r":0.42,"s":"*"},{"g":"Carboxylicivirga","f":"NaOH-Po","r":0.68,"s":"***"},{"g":"Carboxylicivirga","f":"NH₄Cl-TP","r":0.28},{"g":"Carboxylicivirga","f":"NH₄Cl-Po","r":0.24},{"g":"Carboxylicivirga","f":"BD-Po","r":0.3},
{"g":"Lentimicrobium","f":"Res-TP","r":-0.72,"s":"***"},{"g":"Lentimicrobium","f":"NaOH-TP","r":-0.55,"s":"**"},{"g":"Lentimicrobium","f":"NaOH-Pi","r":-0.66,"s":"***"},{"g":"Lentimicrobium","f":"HCl-Po","r":0.06},{"g":"Lentimicrobium","f":"NH₄Cl-Pi","r":0.62,"s":"***"},{"g":"Lentimicrobium","f":"HCl-TP","r":0.62,"s":"***"},{"g":"Lentimicrobium","f":"HCl-Pi","r":0.64,"s":"***"},{"g":"Lentimicrobium","f":"BD-TP","r":0.64,"s":"***"},{"g":"Lentimicrobium","f":"BD-Pi","r":0.65,"s":"***"},{"g":"Lentimicrobium","f":"STP","r":0.3},{"g":"Lentimicrobium","f":"NaOH-Po","r":0.72,"s":"***"},{"g":"Lentimicrobium","f":"NH₄Cl-TP","r":0.52,"s":"**"},{"g":"Lentimicrobium","f":"NH₄Cl-Po","r":0.28},{"g":"Lentimicrobium","f":"BD-Po","r":0.4,"s":"*"},
{"g":"Prolixibacter","f":"Res-TP","r":-0.68,"s":"***"},{"g":"Prolixibacter","f":"NaOH-TP","r":-0.38,"s":"*"},{"g":"Prolixibacter","f":"NaOH-Pi","r":-0.64,"s":"***"},{"g":"Prolixibacter","f":"HCl-Po","r":0.06},{"g":"Prolixibacter","f":"NH₄Cl-Pi","r":0.5,"s":"**"},{"g":"Prolixibacter","f":"HCl-TP","r":0.5,"s":"**"},{"g":"Prolixibacter","f":"HCl-Pi","r":0.6,"s":"***"},{"g":"Prolixibacter","f":"BD-TP","r":0.6,"s":"***"},{"g":"Prolixibacter","f":"BD-Pi","r":0.62,"s":"***"},{"g":"Prolixibacter","f":"STP","r":0.4,"s":"*"},{"g":"Prolixibacter","f":"NaOH-Po","r":0.66,"s":"***"},{"g":"Prolixibacter","f":"NH₄Cl-TP","r":0.52,"s":"**"},{"g":"Prolixibacter","f":"NH₄Cl-Po","r":0.38,"s":"*"},{"g":"Prolixibacter","f":"BD-Po","r":0.4,"s":"*"},
{"g":"Saccharicrinis","f":"Res-TP","r":-0.72,"s":"***"},{"g":"Saccharicrinis","f":"NaOH-TP","r":-0.38,"s":"*"},{"g":"Saccharicrinis","f":"NaOH-Pi","r":-0.52,"s":"**"},{"g":"Saccharicrinis","f":"HCl-Po","r":0.05},{"g":"Saccharicrinis","f":"NH₄Cl-Pi","r":0.5,"s":"**"},{"g":"Saccharicrinis","f":"HCl-TP","r":0.5,"s":"**"},{"g":"Saccharicrinis","f":"HCl-Pi","r":0.5,"s":"**"},{"g":"Saccharicrinis","f":"BD-TP","r":0.58,"s":"***"},{"g":"Saccharicrinis","f":"BD-Pi","r":0.6,"s":"***"},{"g":"Saccharicrinis","f":"STP","r":0.4,"s":"*"},{"g":"Saccharicrinis","f":"NaOH-Po","r":0.72,"s":"***"},{"g":"Saccharicrinis","f":"NH₄Cl-TP","r":0.42,"s":"*"},{"g":"Saccharicrinis","f":"NH₄Cl-Po","r":0.3},{"g":"Saccharicrinis","f":"BD-Po","r":0.42,"s":"*"},
{"g":"Breznakibacter","f":"Res-TP","r":-0.68,"s":"***"},{"g":"Breznakibacter","f":"NaOH-TP","r":-0.38,"s":"*"},{"g":"Breznakibacter","f":"NaOH-Pi","r":-0.55,"s":"**"},{"g":"Breznakibacter","f":"HCl-Po","r":0.04},{"g":"Breznakibacter","f":"NH₄Cl-Pi","r":0.42,"s":"*"},{"g":"Breznakibacter","f":"HCl-TP","r":0.42,"s":"*"},{"g":"Breznakibacter","f":"HCl-Pi","r":0.42,"s":"*"},{"g":"Breznakibacter","f":"BD-TP","r":0.52,"s":"**"},{"g":"Breznakibacter","f":"BD-Pi","r":0.52,"s":"**"},{"g":"Breznakibacter","f":"STP","r":0.42,"s":"*"},{"g":"Breznakibacter","f":"NaOH-Po","r":0.58,"s":"**"},{"g":"Breznakibacter","f":"NH₄Cl-TP","r":0.4,"s":"*"},{"g":"Breznakibacter","f":"NH₄Cl-Po","r":0.26},{"g":"Breznakibacter","f":"BD-Po","r":0.28},
{"g":"Desulfobulbus","f":"Res-TP","r":0.68,"s":"***"},{"g":"Desulfobulbus","f":"NaOH-TP","r":0.24},{"g":"Desulfobulbus","f":"NaOH-Pi","r":0.28},{"g":"Desulfobulbus","f":"HCl-Po","r":0.15},{"g":"Desulfobulbus","f":"NH₄Cl-Pi","r":-0.5,"s":"**"},{"g":"Desulfobulbus","f":"HCl-TP","r":-0.4,"s":"*"},{"g":"Desulfobulbus","f":"HCl-Pi","r":-0.38,"s":"*"},{"g":"Desulfobulbus","f":"BD-TP","r":-0.52,"s":"**"},{"g":"Desulfobulbus","f":"BD-Pi","r":-0.42,"s":"*"},{"g":"Desulfobulbus","f":"STP","r":-0.42,"s":"*"},{"g":"Desulfobulbus","f":"NaOH-Po","r":-0.38,"s":"*"},{"g":"Desulfobulbus","f":"NH₄Cl-TP","r":-0.25},{"g":"Desulfobulbus","f":"NH₄Cl-Po","r":0.05},{"g":"Desulfobulbus","f":"BD-Po","r":-0.4,"s":"*"},
{"g":"Roseisolibacter","f":"Res-TP","r":0.4,"s":"*"},{"g":"Roseisolibacter","f":"NaOH-TP","r":0.6,"s":"***"},{"g":"Roseisolibacter","f":"NaOH-Pi","r":0.62,"s":"***"},{"g":"Roseisolibacter","f":"HCl-Po","r":-0.22},{"g":"Roseisolibacter","f":"NH₄Cl-Pi","r":-0.62,"s":"***"},{"g":"Roseisolibacter","f":"HCl-TP","r":-0.5,"s":"**"},{"g":"Roseisolibacter","f":"HCl-Pi","r":-0.42,"s":"*"},{"g":"Roseisolibacter","f":"BD-TP","r":-0.5,"s":"**"},{"g":"Roseisolibacter","f":"BD-Pi","r":-0.62,"s":"***"},{"g":"Roseisolibacter","f":"STP","r":0.1},{"g":"Roseisolibacter","f":"NaOH-Po","r":-0.52,"s":"**"},{"g":"Roseisolibacter","f":"NH₄Cl-TP","r":-0.5,"s":"**"},{"g":"Roseisolibacter","f":"NH₄Cl-Po","r":-0.26},{"g":"Roseisolibacter","f":"BD-Po","r":-0.2},
{"g":"Vicinamibacter","f":"Res-TP","r":0.32},{"g":"Vicinamibacter","f":"NaOH-TP","r":0.5,"s":"**"},{"g":"Vicinamibacter","f":"NaOH-Pi","r":0.5,"s":"**"},{"g":"Vicinamibacter","f":"HCl-Po","r":0.06},{"g":"Vicinamibacter","f":"NH₄Cl-Pi","r":-0.52,"s":"**"},{"g":"Vicinamibacter","f":"HCl-TP","r":-0.5,"s":"**"},{"g":"Vicinamibacter","f":"HCl-Pi","r":-0.52,"s":"**"},{"g":"Vicinamibacter","f":"BD-TP","r":-0.4,"s":"*"},{"g":"Vicinamibacter","f":"BD-Pi","r":-0.52,"s":"**"},{"g":"Vicinamibacter","f":"STP","r":0.16},{"g":"Vicinamibacter","f":"NaOH-Po","r":-0.12},{"g":"Vicinamibacter","f":"NH₄Cl-TP","r":-0.42,"s":"*"},{"g":"Vicinamibacter","f":"NH₄Cl-Po","r":-0.22},{"g":"Vicinamibacter","f":"BD-Po","r":-0.12},
{"g":"Thermoanaerobaculum","f":"Res-TP","r":0.42,"s":"*"},{"g":"Thermoanaerobaculum","f":"NaOH-TP","r":0.5,"s":"**"},{"g":"Thermoanaerobaculum","f":"NaOH-Pi","r":0.52,"s":"**"},{"g":"Thermoanaerobaculum","f":"HCl-Po","r":-0.14},{"g":"Thermoanaerobaculum","f":"NH₄Cl-Pi","r":-0.66,"s":"***"},{"g":"Thermoanaerobaculum","f":"HCl-TP","r":-0.66,"s":"***"},{"g":"Thermoanaerobaculum","f":"HCl-Pi","r":-0.68,"s":"***"},{"g":"Thermoanaerobaculum","f":"BD-TP","r":-0.55,"s":"**"},{"g":"Thermoanaerobaculum","f":"BD-Pi","r":-0.52,"s":"**"},{"g":"Thermoanaerobaculum","f":"STP","r":-0.12},{"g":"Thermoanaerobaculum","f":"NaOH-Po","r":-0.26},{"g":"Thermoanaerobaculum","f":"NH₄Cl-TP","r":-0.42,"s":"*"},{"g":"Thermoanaerobaculum","f":"NH₄Cl-Po","r":-0.22},{"g":"Thermoanaerobaculum","f":"BD-Po","r":-0.26},
{"g":"Algorimarina","f":"Res-TP","r":0.42,"s":"*"},{"g":"Algorimarina","f":"NaOH-TP","r":0.62,"s":"***"},{"g":"Algorimarina","f":"NaOH-Pi","r":0.62,"s":"***"},{"g":"Algorimarina","f":"HCl-Po","r":-0.12},{"g":"Algorimarina","f":"NH₄Cl-Pi","r":-0.66,"s":"***"},{"g":"Algorimarina","f":"HCl-TP","r":-0.55,"s":"**"},{"g":"Algorimarina","f":"HCl-Pi","r":-0.55,"s":"**"},{"g":"Algorimarina","f":"BD-TP","r":-0.65,"s":"***"},{"g":"Algorimarina","f":"BD-Pi","r":-0.62,"s":"***"},{"g":"Algorimarina","f":"STP","r":0.06},{"g":"Algorimarina","f":"NaOH-Po","r":-0.26},{"g":"Algorimarina","f":"NH₄Cl-TP","r":-0.52,"s":"**"},{"g":"Algorimarina","f":"NH₄Cl-Po","r":-0.4,"s":"*"},{"g":"Algorimarina","f":"BD-Po","r":-0.42,"s":"*"},
{"g":"Archangium","f":"Res-TP","r":0.5,"s":"**"},{"g":"Archangium","f":"NaOH-TP","r":0.7,"s":"***"},{"g":"Archangium","f":"NaOH-Pi","r":0.72,"s":"***"},{"g":"Archangium","f":"HCl-Po","r":-0.12},{"g":"Archangium","f":"NH₄Cl-Pi","r":-0.64,"s":"***"},{"g":"Archangium","f":"HCl-TP","r":-0.66,"s":"***"},{"g":"Archangium","f":"HCl-Pi","r":-0.68,"s":"***"},{"g":"Archangium","f":"BD-TP","r":-0.66,"s":"***"},{"g":"Archangium","f":"BD-Pi","r":-0.7,"s":"***"},{"g":"Archangium","f":"STP","r":0.05},{"g":"Archangium","f":"NaOH-Po","r":-0.3},{"g":"Archangium","f":"NH₄Cl-TP","r":-0.52,"s":"**"},{"g":"Archangium","f":"NH₄Cl-Po","r":-0.4,"s":"*"},{"g":"Archangium","f":"BD-Po","r":-0.42,"s":"*"},
{"g":"Racemicystis","f":"Res-TP","r":0.5,"s":"**"},{"g":"Racemicystis","f":"NaOH-TP","r":0.62,"s":"***"},{"g":"Racemicystis","f":"NaOH-Pi","r":0.62,"s":"***"},{"g":"Racemicystis","f":"HCl-Po","r":-0.12},{"g":"Racemicystis","f":"NH₄Cl-Pi","r":-0.78,"s":"***"},{"g":"Racemicystis","f":"HCl-TP","r":-0.7,"s":"***"},{"g":"Racemicystis","f":"HCl-Pi","r":-0.72,"s":"***"},{"g":"Racemicystis","f":"BD-TP","r":-0.72,"s":"***"},{"g":"Racemicystis","f":"BD-Pi","r":-0.78,"s":"***"},{"g":"Racemicystis","f":"STP","r":-0.12},{"g":"Racemicystis","f":"NaOH-Po","r":-0.38,"s":"*"},{"g":"Racemicystis","f":"NH₄Cl-TP","r":-0.52,"s":"**"},{"g":"Racemicystis","f":"NH₄Cl-Po","r":-0.28},{"g":"Racemicystis","f":"BD-Po","r":-0.38,"s":"*"},
{"g":"Dehalogenimonas","f":"Res-TP","r":0.64,"s":"***"},{"g":"Dehalogenimonas","f":"NaOH-TP","r":0.66,"s":"***"},{"g":"Dehalogenimonas","f":"NaOH-Pi","r":0.68,"s":"***"},{"g":"Dehalogenimonas","f":"HCl-Po","r":-0.12},{"g":"Dehalogenimonas","f":"NH₄Cl-Pi","r":-0.8,"s":"***"},{"g":"Dehalogenimonas","f":"HCl-TP","r":-0.75,"s":"***"},{"g":"Dehalogenimonas","f":"HCl-Pi","r":-0.8,"s":"***"},{"g":"Dehalogenimonas","f":"BD-TP","r":-0.78,"s":"***"},{"g":"Dehalogenimonas","f":"BD-Pi","r":-0.8,"s":"***"},{"g":"Dehalogenimonas","f":"STP","r":-0.2},{"g":"Dehalogenimonas","f":"NaOH-Po","r":-0.26},{"g":"Dehalogenimonas","f":"NH₄Cl-TP","r":-0.62,"s":"***"},{"g":"Dehalogenimonas","f":"NH₄Cl-Po","r":-0.3},{"g":"Dehalogenimonas","f":"BD-Po","r":-0.4,"s":"*"},
{"g":"Anaeromyxobacter","f":"Res-TP","r":0.68,"s":"***"},{"g":"Anaeromyxobacter","f":"NaOH-TP","r":0.82,"s":"***"},{"g":"Anaeromyxobacter","f":"NaOH-Pi","r":0.8,"s":"***"},{"g":"Anaeromyxobacter","f":"HCl-Po","r":-0.26},{"g":"Anaeromyxobacter","f":"NH₄Cl-Pi","r":-0.88,"s":"***"},{"g":"Anaeromyxobacter","f":"HCl-TP","r":-0.85,"s":"***"},{"g":"Anaeromyxobacter","f":"HCl-Pi","r":-0.82,"s":"***"},{"g":"Anaeromyxobacter","f":"BD-TP","r":-0.85,"s":"***"},{"g":"Anaeromyxobacter","f":"BD-Pi","r":-0.88,"s":"***"},{"g":"Anaeromyxobacter","f":"STP","r":-0.14},{"g":"Anaeromyxobacter","f":"NaOH-Po","r":-0.52,"s":"**"},{"g":"Anaeromyxobacter","f":"NH₄Cl-TP","r":-0.64,"s":"***"},{"g":"Anaeromyxobacter","f":"NH₄Cl-Po","r":-0.4,"s":"*"},{"g":"Anaeromyxobacter","f":"BD-Po","r":-0.5,"s":"**"},
{"g":"Dissulfurirhabdus","f":"Res-TP","r":0.7,"s":"***"},{"g":"Dissulfurirhabdus","f":"NaOH-TP","r":0.72,"s":"***"},{"g":"Dissulfurirhabdus","f":"NaOH-Pi","r":0.72,"s":"***"},{"g":"Dissulfurirhabdus","f":"HCl-Po","r":-0.2},{"g":"Dissulfurirhabdus","f":"NH₄Cl-Pi","r":-0.82,"s":"***"},{"g":"Dissulfurirhabdus","f":"HCl-TP","r":-0.78,"s":"***"},{"g":"Dissulfurirhabdus","f":"HCl-Pi","r":-0.75,"s":"***"},{"g":"Dissulfurirhabdus","f":"BD-TP","r":-0.75,"s":"***"},{"g":"Dissulfurirhabdus","f":"BD-Pi","r":-0.78,"s":"***"},{"g":"Dissulfurirhabdus","f":"STP","r":-0.28},{"g":"Dissulfurirhabdus","f":"NaOH-Po","r":-0.4,"s":"*"},{"g":"Dissulfurirhabdus","f":"NH₄Cl-TP","r":-0.7,"s":"***"},{"g":"Dissulfurirhabdus","f":"NH₄Cl-Po","r":-0.4,"s":"*"},{"g":"Dissulfurirhabdus","f":"BD-Po","r":-0.4,"s":"*"},
{"g":"Dethiosulfatarculus","f":"Res-TP","r":0.7,"s":"***"},{"g":"Dethiosulfatarculus","f":"NaOH-TP","r":0.7,"s":"***"},{"g":"Dethiosulfatarculus","f":"NaOH-Pi","r":0.7,"s":"***"},{"g":"Dethiosulfatarculus","f":"HCl-Po","r":-0.22},{"g":"Dethiosulfatarculus","f":"NH₄Cl-Pi","r":-0.62,"s":"***"},{"g":"Dethiosulfatarculus","f":"HCl-TP","r":-0.66,"s":"***"},{"g":"Dethiosulfatarculus","f":"HCl-Pi","r":-0.65,"s":"***"},{"g":"Dethiosulfatarculus","f":"BD-TP","r":-0.66,"s":"***"},{"g":"Dethiosulfatarculus","f":"BD-Pi","r":-0.65,"s":"***"},{"g":"Dethiosulfatarculus","f":"STP","r":-0.16},{"g":"Dethiosulfatarculus","f":"NaOH-Po","r":-0.22},{"g":"Dethiosulfatarculus","f":"NH₄Cl-TP","r":-0.52,"s":"**"},{"g":"Dethiosulfatarculus","f":"NH₄Cl-Po","r":-0.22},{"g":"Dethiosulfatarculus","f":"BD-Po","r":-0.22},
{"g":"Deferrisoma","f":"Res-TP","r":0.7,"s":"***"},{"g":"Deferrisoma","f":"NaOH-TP","r":0.62,"s":"***"},{"g":"Deferrisoma","f":"NaOH-Pi","r":0.66,"s":"***"},{"g":"Deferrisoma","f":"HCl-Po","r":-0.12},{"g":"Deferrisoma","f":"NH₄Cl-Pi","r":-0.66,"s":"***"},{"g":"Deferrisoma","f":"HCl-TP","r":-0.66,"s":"***"},{"g":"Deferrisoma","f":"HCl-Pi","r":-0.68,"s":"***"},{"g":"Deferrisoma","f":"BD-TP","r":-0.66,"s":"***"},{"g":"Deferrisoma","f":"BD-Pi","r":-0.66,"s":"***"},{"g":"Deferrisoma","f":"STP","r":-0.28},{"g":"Deferrisoma","f":"NaOH-Po","r":-0.4,"s":"*"},{"g":"Deferrisoma","f":"NH₄Cl-TP","r":-0.66,"s":"***"},{"g":"Deferrisoma","f":"NH₄Cl-Po","r":-0.4,"s":"*"},{"g":"Deferrisoma","f":"BD-Po","r":-0.4,"s":"*"},
{"g":"Desulfuromonas","f":"Res-TP","r":0.68,"s":"***"},{"g":"Desulfuromonas","f":"NaOH-TP","r":0.6,"s":"***"},{"g":"Desulfuromonas","f":"NaOH-Pi","r":0.62,"s":"***"},{"g":"Desulfuromonas","f":"HCl-Po","r":0.02},{"g":"Desulfuromonas","f":"NH₄Cl-Pi","r":-0.62,"s":"***"},{"g":"Desulfuromonas","f":"HCl-TP","r":-0.62,"s":"***"},{"g":"Desulfuromonas","f":"HCl-Pi","r":-0.66,"s":"***"},{"g":"Desulfuromonas","f":"BD-TP","r":-0.62,"s":"***"},{"g":"Desulfuromonas","f":"BD-Pi","r":-0.66,"s":"***"},{"g":"Desulfuromonas","f":"STP","r":-0.28},{"g":"Desulfuromonas","f":"NaOH-Po","r":-0.4,"s":"*"},{"g":"Desulfuromonas","f":"NH₄Cl-TP","r":-0.52,"s":"**"},{"g":"Desulfuromonas","f":"NH₄Cl-Po","r":-0.22},{"g":"Desulfuromonas","f":"BD-Po","r":-0.38,"s":"*"},
{"g":"Magnetospirillum","f":"Res-TP","r":0.68,"s":"***"},{"g":"Magnetospirillum","f":"NaOH-TP","r":0.5,"s":"**"},{"g":"Magnetospirillum","f":"NaOH-Pi","r":0.5,"s":"**"},{"g":"Magnetospirillum","f":"HCl-Po","r":0.03},{"g":"Magnetospirillum","f":"NH₄Cl-Pi","r":-0.6,"s":"***"},{"g":"Magnetospirillum","f":"HCl-TP","r":-0.5,"s":"**"},{"g":"Magnetospirillum","f":"HCl-Pi","r":-0.5,"s":"**"},{"g":"Magnetospirillum","f":"BD-TP","r":-0.52,"s":"**"},{"g":"Magnetospirillum","f":"BD-Pi","r":-0.5,"s":"**"},{"g":"Magnetospirillum","f":"STP","r":-0.2},{"g":"Magnetospirillum","f":"NaOH-Po","r":-0.25},{"g":"Magnetospirillum","f":"NH₄Cl-TP","r":-0.52,"s":"**"},{"g":"Magnetospirillum","f":"NH₄Cl-Po","r":-0.22},{"g":"Magnetospirillum","f":"BD-Po","r":-0.38,"s":"*"},
{"g":"Desulfonatronum","f":"Res-TP","r":0.66,"s":"***"},{"g":"Desulfonatronum","f":"NaOH-TP","r":0.6,"s":"***"},{"g":"Desulfonatronum","f":"NaOH-Pi","r":0.62,"s":"***"},{"g":"Desulfonatronum","f":"HCl-Po","r":-0.24},{"g":"Desulfonatronum","f":"NH₄Cl-Pi","r":-0.66,"s":"***"},{"g":"Desulfonatronum","f":"HCl-TP","r":-0.8,"s":"***"},{"g":"Desulfonatronum","f":"HCl-Pi","r":-0.8,"s":"***"},{"g":"Desulfonatronum","f":"BD-TP","r":-0.68,"s":"***"},{"g":"Desulfonatronum","f":"BD-Pi","r":-0.72,"s":"***"},{"g":"Desulfonatronum","f":"STP","r":-0.38,"s":"*"},{"g":"Desulfonatronum","f":"NaOH-Po","r":-0.5,"s":"**"},{"g":"Desulfonatronum","f":"NH₄Cl-TP","r":-0.5,"s":"**"},{"g":"Desulfonatronum","f":"NH₄Cl-Po","r":-0.2},{"g":"Desulfonatronum","f":"BD-Po","r":-0.5,"s":"**"},
{"g":"Geomonas","f":"Res-TP","r":0.62,"s":"***"},{"g":"Geomonas","f":"NaOH-TP","r":0.62,"s":"***"},{"g":"Geomonas","f":"NaOH-Pi","r":0.62,"s":"***"},{"g":"Geomonas","f":"HCl-Po","r":-0.1},{"g":"Geomonas","f":"NH₄Cl-Pi","r":-0.68,"s":"***"},{"g":"Geomonas","f":"HCl-TP","r":-0.68,"s":"***"},{"g":"Geomonas","f":"HCl-Pi","r":-0.68,"s":"***"},{"g":"Geomonas","f":"BD-TP","r":-0.68,"s":"***"},{"g":"Geomonas","f":"BD-Pi","r":-0.78,"s":"***"},{"g":"Geomonas","f":"STP","r":-0.26},{"g":"Geomonas","f":"NaOH-Po","r":-0.42,"s":"*"},{"g":"Geomonas","f":"NH₄Cl-TP","r":-0.4,"s":"*"},{"g":"Geomonas","f":"NH₄Cl-Po","r":-0.2},{"g":"Geomonas","f":"BD-Po","r":-0.4,"s":"*"}],
"aA":[{"f":"HCl-Po","t":"P Type","p":"Po"},{"f":"STP","t":"P Type","p":"TP"},{"f":"BD-Pi","t":"P Type","p":"Pi"},{"f":"NH₄Cl-Po","t":"P Type","p":"Po"},{"f":"BD-TP","t":"P Type","p":"TP"},{"f":"Res-TP","t":"P Type","p":"TP"},{"f":"NH₄Cl-TP","t":"P Type","p":"TP"},{"f":"NH₄Cl-Pi","t":"P Type","p":"Pi"},{"f":"BD-Po","t":"P Type","p":"Po"},{"f":"HCl-TP","t":"P Type","p":"TP"},{"f":"HCl-Pi","t":"P Type","p":"Pi"},{"f":"NaOH-Po","t":"P Type","p":"Po"},{"f":"NaOH-TP","t":"P Type","p":"TP"},{"f":"NaOH-Pi","t":"P Type","p":"Pi"}],
"aB":[{"f":"Res-TP","t":"P Type","p":"TP"},{"f":"NaOH-TP","t":"P Type","p":"TP"},{"f":"NaOH-Pi","t":"P Type","p":"Pi"},{"f":"HCl-Po","t":"P Type","p":"Po"},{"f":"NH₄Cl-Pi","t":"P Type","p":"Pi"},{"f":"HCl-TP","t":"P Type","p":"TP"},{"f":"HCl-Pi","t":"P Type","p":"Pi"},{"f":"BD-TP","t":"P Type","p":"TP"},{"f":"BD-Pi","t":"P Type","p":"Pi"},{"f":"STP","t":"P Type","p":"TP"},{"f":"NaOH-Po","t":"P Type","p":"Po"},{"f":"NH₄Cl-TP","t":"P Type","p":"TP"},{"f":"NH₄Cl-Po","t":"P Type","p":"Po"},{"f":"BD-Po","t":"P Type","p":"Po"}],
"cA":[{"a":9.5,"b":10.5,"h":6.7,"ha":0,"hb":0},{"a":8.5,"b":10,"h":11,"ha":0,"hb":6.7},{"a":7.5,"b":9.25,"h":12.3,"ha":0,"hb":11},{"a":6.5,"b":8.37,"h":13,"ha":0,"hb":12.3},{"a":4.5,"b":5.5,"h":11.7,"ha":0,"hb":0},{"a":5,"b":7.44,"h":14,"ha":11.7,"hb":13},{"a":3.5,"b":6.22,"h":22.3,"ha":0,"hb":14},{"a":2.5,"b":4.86,"h":25.7,"ha":0,"hb":22.3},{"a":1.5,"b":3.68,"h":44.3,"ha":0,"hb":25.7},{"a":0.5,"b":2.59,"h":42.7,"ha":0,"hb":44.3},{"a":12.5,"b":13.5,"h":11.7,"ha":0,"hb":0},{"a":11.5,"b":13,"h":56,"ha":0,"hb":11.7},{"a":1.55,"b":12.25,"h":80,"ha":42.7,"hb":56}],
"cB":[{"a":1.5,"b":2.5,"h":6.7,"ha":0,"hb":0},{"a":0.5,"b":2,"h":13.3,"ha":0,"hb":6.7},{"a":5.5,"b":6.5,"h":1.7,"ha":0,"hb":0},{"a":7.5,"b":8.5,"h":4.3,"ha":0,"hb":0},{"a":6,"b":8,"h":4.6,"ha":1.7,"hb":4.3},{"a":4.5,"b":7,"h":5,"ha":0,"hb":4.6},{"a":12.5,"b":13.5,"h":12,"ha":0,"hb":0},{"a":11.5,"b":13,"h":11,"ha":0,"hb":12},{"a":10.5,"b":12.25,"h":11.7,"ha":0,"hb":11},{"a":9.5,"b":11.38,"h":14.3,"ha":0,"hb":11.7},{"a":5.75,"b":10.44,"h":17.7,"ha":5,"hb":14.3},{"a":3.5,"b":8.1,"h":31.7,"ha":0,"hb":17.7},{"a":1.25,"b":5.8,"h":80,"ha":13.3,"hb":31.7}],
"rA":[{"a":1.5,"b":2.5,"h":0.8,"ha":0,"hb":0},{"a":0.5,"b":2,"h":1.2,"ha":0,"hb":0.8},{"a":4.5,"b":5.5,"h":0.6,"ha":0,"hb":0},{"a":8.5,"b":9.5,"h":0.6,"ha":0,"hb":0},{"a":7.5,"b":9,"h":0.9,"ha":0,"hb":0.6},{"a":6.5,"b":8.25,"h":1.2,"ha":0,"hb":0.9},{"a":5,"b":7.38,"h":1.5,"ha":0.6,"hb":1.2},{"a":10.5,"b":11.5,"h":0.8,"ha":0,"hb":0},{"a":6.19,"b":11,"h":1.8,"ha":1.5,"hb":0.8},{"a":3.5,"b":8.6,"h":2.2,"ha":0,"hb":1.8},{"a":12.5,"b":13.5,"h":0.8,"ha":0,"hb":0},{"a":6.05,"b":13,"h":2.8,"ha":2.2,"hb":0.8},{"a":1.25,"b":9.52,"h":5.5,"ha":1.2,"hb":2.8},{"a":14.5,"b":15.5,"h":8.5,"ha":0,"hb":0},{"a":5.4,"b":15,"h":17.5,"ha":5.5,"hb":8.5},{"a":24.5,"b":25.5,"h":0.6,"ha":0,"hb":0},{"a":25,"b":26.5,"h":0.8,"ha":0.6,"hb":0},{"a":23.5,"b":25.75,"h":1,"ha":0,"hb":0.8},{"a":22.5,"b":24.63,"h":1.2,"ha":0,"hb":1},{"a":20.5,"b":21.5,"h":0.6,"ha":0,"hb":0},{"a":21,"b":23.56,"h":1.4,"ha":0.6,"hb":1.2},{"a":19.5,"b":22.28,"h":1.6,"ha":0,"hb":1.4},{"a":18.5,"b":20.89,"h":1.8,"ha":0,"hb":1.6},{"a":17.5,"b":19.7,"h":2,"ha":0,"hb":1.8},{"a":16.5,"b":18.6,"h":2.5,"ha":0,"hb":2},{"a":28.5,"b":29.5,"h":2.5,"ha":0,"hb":0},{"a":27.5,"b":29,"h":5.2,"ha":0,"hb":2.5},{"a":17.55,"b":28.25,"h":22.2,"ha":2.5,"hb":5.2},{"a":10.2,"b":22.9,"h":79.5,"ha":17.5,"hb":22.2}],
"rB":[{"a":2.5,"b":3.5,"h":0.4,"ha":0,"hb":0},{"a":1.5,"b":3,"h":0.6,"ha":0,"hb":0.4},{"a":4.5,"b":5.5,"h":0.4,"ha":0,"hb":0},{"a":6.5,"b":7.5,"h":0.4,"ha":0,"hb":0},{"a":5,"b":7,"h":0.6,"ha":0.4,"hb":0.4},{"a":8.5,"b":9.5,"h":0.4,"ha":0,"hb":0},{"a":6,"b":9,"h":0.8,"ha":0.6,"hb":0.4},{"a":12.5,"b":13.5,"h":0.4,"ha":0,"hb":0},{"a":11.5,"b":13,"h":0.6,"ha":0,"hb":0.4},{"a":10.5,"b":12.25,"h":0.8,"ha":0,"hb":0.6},{"a":7.5,"b":11.38,"h":1,"ha":0.8,"hb":0.8},{"a":2.25,"b":9.44,"h":1.2,"ha":0.6,"hb":1},{"a":0.5,"b":5.85,"h":1.7,"ha":0,"hb":1.2},{"a":18.5,"b":27.5,"h":0.6,"ha":0,"hb":0},{"a":28.5,"b":29.5,"h":0.6,"ha":0,"hb":0},{"a":23,"b":29,"h":0.9,"ha":0.6,"hb":0.6},{"a":17.5,"b":26,"h":1.2,"ha":0,"hb":0.9},{"a":16.5,"b":21.75,"h":1.6,"ha":0,"hb":1.2},{"a":15.5,"b":19.1,"h":2.4,"ha":0,"hb":1.6},{"a":14.5,"b":17.3,"h":4.3,"ha":0,"hb":2.4},{"a":3.17,"b":15.9,"h":79.5,"ha":1.7,"hb":4.3}],
"cap":[{"line":0,"text":"FIGURE 4"},{"line":1,"text":"Cluster analysis of bacterial communities and P fractions at the genus level in Hongfeng Lake (A) and Aha Lake (B). The heatmaps show the Spearman"},{"line":2,"text":"correlationship between the relative abundance of the top 30 genera and P fractions. Red denotes a positive relationship and blue indicates a negative"},{"line":3,"text":"correlation. ***p < 0.001, **p < 0.01, *p < 0.05."}]
},
"concat":[
{"width":79,"height":104,"data":{"values":[{"a":0,"b":0,"c":0,"d":1},{"a":0,"b":1,"c":0,"d":0}]},"mark":{"type":"rule","color":"#bdbdbd","strokeWidth":1.5},"encoding":{"x":{"field":"a","type":"quantitative","axis":null,"scale":{"domain":[0,1],"range":[0,1312]}},"x2":{"field":"b"},"y":{"field":"c","type":"quantitative","axis":null,"scale":{"domain":[0,1],"range":[0,949]}},"y2":{"field":"d"}}},
{"width":80,"height":104,"data":{"values":[{"t":"A"}]},"mark":{"type":"text","font":"Liberation Sans","fontWeight":"bold","fontSize":21,"dx":-53.5,"dy":-6,"baseline":"middle"},"encoding":{"text":{"field":"t"}}},
{"width":320,"height":104,"data":{"values":[{"t":"Hongfeng Lake"}]},"mark":{"type":"text","font":"Liberation Sans","fontWeight":"bold","fontSize":24,"dx":-4,"dy":19,"baseline":"middle"},"encoding":{"text":{"field":"t"}}},
{"width":182,"height":1,"data":{"name":"sp"},"mark":{"type":"point","opacity":0}},
{"width":80,"height":104,"data":{"values":[{"t":"B"}]},"mark":{"type":"text","font":"Liberation Sans","fontWeight":"bold","fontSize":21,"dx":-49,"dy":-6,"baseline":"middle"},"encoding":{"text":{"field":"t"}}},
{"width":321,"height":104,"data":{"values":[{"t":"Aha Lake"}]},"mark":{"type":"text","font":"Liberation Sans","fontWeight":"bold","fontSize":24,"dx":16,"dy":19,"baseline":"middle"},"encoding":{"text":{"field":"t"}}},
{"width":149,"height":1,"data":{"name":"sp"},"mark":{"type":"point","opacity":0}},
{"width":101,"height":1,"data":{"name":"sp"},"mark":{"type":"point","opacity":0}},

{"width":1,"height":1,"data":{"name":"sp"},"mark":{"type":"point","opacity":0}},
{"width":1,"height":1,"data":{"name":"sp"},"mark":{"type":"point","opacity":0}},
{"width":320,"height":80,"data":{"name":"cA"},"layer":[
{"mark":{"type":"rule","color":"#111","strokeWidth":1.6},"encoding":{"x":{"field":"a","type":"quantitative","scale":{"domain":[0,14],"nice":false},"axis":null},"x2":{"field":"b"},"y":{"field":"h","type":"quantitative","scale":{"domain":[0,80],"nice":false},"axis":null}}},
{"mark":{"type":"rule","color":"#111","strokeWidth":1.6},"encoding":{"x":{"field":"a","type":"quantitative"},"y":{"field":"h","type":"quantitative"},"y2":{"field":"ha"}}},
{"mark":{"type":"rule","color":"#111","strokeWidth":1.6},"encoding":{"x":{"field":"b","type":"quantitative"},"y":{"field":"h","type":"quantitative"},"y2":{"field":"hb"}}}]},
{"width":1,"height":1,"data":{"name":"sp"},"mark":{"type":"point","opacity":0}},
{"width":1,"height":1,"data":{"name":"sp"},"mark":{"type":"point","opacity":0}},
{"width":321,"height":80,"data":{"name":"cB"},"layer":[
{"mark":{"type":"rule","color":"#111","strokeWidth":1.6},"encoding":{"x":{"field":"a","type":"quantitative","scale":{"domain":[0,14],"nice":false},"axis":null},"x2":{"field":"b"},"y":{"field":"h","type":"quantitative","scale":{"domain":[0,80],"nice":false},"axis":null}}},
{"mark":{"type":"rule","color":"#111","strokeWidth":1.6},"encoding":{"x":{"field":"a","type":"quantitative"},"y":{"field":"h","type":"quantitative"},"y2":{"field":"ha"}}},
{"mark":{"type":"rule","color":"#111","strokeWidth":1.6},"encoding":{"x":{"field":"b","type":"quantitative"},"y":{"field":"h","type":"quantitative"},"y2":{"field":"hb"}}}]},
{"width":1,"height":1,"data":{"name":"sp"},"mark":{"type":"point","opacity":0}},
{"width":18,"height":80,"title":{"text":"P Type","anchor":"start","dx":-7,"offset":6,"font":"Liberation Sans","fontSize":14,"fontWeight":"bold","color":"#111"},"data":{"values":[{"p":"TP"},{"p":"Pi"},{"p":"Po"}]},"mark":{"type":"rect","stroke":"#111","strokeWidth":1.6},"encoding":{"y":{"field":"p","type":"nominal","scale":{"domain":["TP","Pi","Po"],"paddingInner":0,"paddingOuter":0.722,"align":0.23},"axis":{"orient":"right","labelFontSize":14.4,"labelColor":"#222","labelPadding":3,"labelOffset":1}},"color":{"field":"p","type":"nominal","legend":null,"scale":{"domain":["TP","Pi","Po"],"range":["#7570B3","#1B9E77","#D95F02"]}}}},

{"width":1,"height":1,"data":{"name":"sp"},"mark":{"type":"point","opacity":0}},
{"width":1,"height":1,"data":{"name":"sp"},"mark":{"type":"point","opacity":0}},
{"width":320,"height":18,"data":{"name":"aA"},"mark":{"type":"rect","stroke":"#111","strokeWidth":1.5},"encoding":{"x":{"field":"f","type":"nominal","sort":null,"axis":null,"scale":{"paddingInner":0,"paddingOuter":0}},"y":{"field":"t","type":"nominal","axis":{"orient":"right","labelFontSize":14,"labelFontWeight":"bold","labelColor":"#111","labelPadding":4},"scale":{"paddingInner":0,"paddingOuter":0.25,"align":0.33}},"color":{"field":"p","type":"nominal","legend":null,"scale":{"domain":["TP","Pi","Po"],"range":["#7570B3","#1B9E77","#D95F02"]}}}},
{"width":1,"height":1,"data":{"name":"sp"},"mark":{"type":"point","opacity":0}},
{"width":1,"height":1,"data":{"name":"sp"},"mark":{"type":"point","opacity":0}},
{"width":321,"height":18,"data":{"name":"aB"},"mark":{"type":"rect","stroke":"#111","strokeWidth":1.5},"encoding":{"x":{"field":"f","type":"nominal","sort":null,"axis":null,"scale":{"paddingInner":0,"paddingOuter":0}},"y":{"field":"t","type":"nominal","axis":{"orient":"right","labelFontSize":14,"labelFontWeight":"bold","labelColor":"#111","labelPadding":4},"scale":{"paddingInner":0,"paddingOuter":0.25,"align":0.33}},"color":{"field":"p","type":"nominal","legend":null,"scale":{"domain":["TP","Pi","Po"],"range":["#7570B3","#1B9E77","#D95F02"]}}}},
{"width":1,"height":1,"data":{"name":"sp"},"mark":{"type":"point","opacity":0}},
{"width":18,"height":18,"data":{"values":[{"t":"Spearman\nCorrelation"}]},"mark":{"type":"text","font":"Liberation Sans","fontWeight":"bold","fontSize":14,"color":"#111","align":"left","baseline":"middle","lineBreak":"\n","dx":-32,"dy":2,"lineHeight":17},"encoding":{"text":{"field":"t"}}},

{"width":1,"height":1,"data":{"name":"sp"},"mark":{"type":"point","opacity":0}},
{"width":80,"height":549,"data":{"name":"rA"},"layer":[
{"mark":{"type":"rule","color":"#111","strokeWidth":1.6},"encoding":{"y":{"field":"a","type":"quantitative","scale":{"domain":[0,30],"reverse":true,"nice":false},"axis":null},"y2":{"field":"b"},"x":{"field":"h","type":"quantitative","scale":{"domain":[0,80],"reverse":true,"nice":false},"axis":null}}},
{"mark":{"type":"rule","color":"#111","strokeWidth":1.6},"encoding":{"y":{"field":"a","type":"quantitative"},"x":{"field":"h","type":"quantitative"},"x2":{"field":"ha"}}},
{"mark":{"type":"rule","color":"#111","strokeWidth":1.6},"encoding":{"y":{"field":"b","type":"quantitative"},"x":{"field":"h","type":"quantitative"},"x2":{"field":"hb"}}}]},
{"width":320,"height":549,"data":{"name":"hA"},"encoding":{"x":{"field":"f","type":"nominal","scale":{"domain":["HCl-Po","STP","BD-Pi","NH₄Cl-Po","BD-TP","Res-TP","NH₄Cl-TP","NH₄Cl-Pi","BD-Po","HCl-TP","HCl-Pi","NaOH-Po","NaOH-TP","NaOH-Pi"],"paddingInner":0,"paddingOuter":0},"axis":{"labelAngle":-45,"labelAlign":"right","labelBaseline":"middle","labelFontSize":14,"labelColor":"#222","labelPadding":13,"labelOffset":7,"labelOverlap":false}},"y":{"field":"g","type":"nominal","scale":{"domain":["Flexilinea","Thermanaerothrix","Luteitalea","Marispirochaeta","Saccharicenans","Thermoanaerobaculum","Anaerohalosphaera","Dehalogenimonas","Desulfobulbus","Dethiosulfatarculus","Desulfuromonas","Thermodesulfobium","Racemicystis","Archangium","Breznakibacter","Acidobacterium","Annwoodia","Christensenella","Corallococcus","Prolixibacter","Saccharicrinis","Lentimicrobium","Methylomonas","Roseisolibacter","Thauera","Paraburkholderia","Crenobacter","Desulfosarcina","Geofilum","Fulvivirga"],"paddingInner":0,"paddingOuter":0},"axis":{"orient":"right","labelFontSize":14.6,"labelColor":"#111","labelPadding":4,"labelOffset":0.5,"labelOverlap":false}}},"layer":[
{"mark":{"type":"rect","stroke":"#111","strokeWidth":1.5},"encoding":{"color":{"field":"r","type":"quantitative","legend":null,"scale":{"domain":[-0.9,0,0.9],"range":["#3a7bb8","#ffffbb","#ff6648"],"interpolate":"rgb"}}}},
{"transform":[{"filter":"datum.s"}],"mark":{"type":"text","font":"Liberation Sans","fontSize":16,"color":"#444","dy":1.6,"baseline":"middle"},"encoding":{"text":{"field":"s"}}}]},
{"width":1,"height":1,"data":{"name":"sp"},"mark":{"type":"point","opacity":0}},
{"width":80,"height":549,"data":{"name":"rB"},"layer":[
{"mark":{"type":"rule","color":"#111","strokeWidth":1.6},"encoding":{"y":{"field":"a","type":"quantitative","scale":{"domain":[0,30],"reverse":true,"nice":false},"axis":null},"y2":{"field":"b"},"x":{"field":"h","type":"quantitative","scale":{"domain":[0,80],"reverse":true,"nice":false},"axis":null}}},
{"mark":{"type":"rule","color":"#111","strokeWidth":1.6},"encoding":{"y":{"field":"a","type":"quantitative"},"x":{"field":"h","type":"quantitative"},"x2":{"field":"ha"}}},
{"mark":{"type":"rule","color":"#111","strokeWidth":1.6},"encoding":{"y":{"field":"b","type":"quantitative"},"x":{"field":"h","type":"quantitative"},"x2":{"field":"hb"}}}]},
{"width":321,"height":549,"data":{"name":"hB"},"encoding":{"x":{"field":"f","type":"nominal","scale":{"domain":["Res-TP","NaOH-TP","NaOH-Pi","HCl-Po","NH₄Cl-Pi","HCl-TP","HCl-Pi","BD-TP","BD-Pi","STP","NaOH-Po","NH₄Cl-TP","NH₄Cl-Po","BD-Po"],"paddingInner":0,"paddingOuter":0},"axis":{"labelAngle":-45,"labelAlign":"right","labelBaseline":"middle","labelFontSize":14,"labelColor":"#222","labelPadding":13,"labelOffset":7,"labelOverlap":false}},"y":{"field":"g","type":"nominal","scale":{"domain":["Endomicrobium","Luteolibacter","Methylomonas","Estrella","Annwoodia","Thauera","Desulfonatronobacter","Lysobacter","Aromatoleum","Carboxylicivirga","Lentimicrobium","Prolixibacter","Saccharicrinis","Breznakibacter","Desulfobulbus","Roseisolibacter","Vicinamibacter","Thermoanaerobaculum","Algorimarina","Archangium","Racemicystis","Dehalogenimonas","Anaeromyxobacter","Dissulfurirhabdus","Dethiosulfatarculus","Deferrisoma","Desulfuromonas","Magnetospirillum","Desulfonatronum","Geomonas"],"paddingInner":0,"paddingOuter":0},"axis":{"orient":"right","labelFontSize":14.6,"labelColor":"#111","labelPadding":4,"labelOffset":2.5,"labelOverlap":false}}},"layer":[
{"mark":{"type":"rect","stroke":"#111","strokeWidth":1.5},"encoding":{"color":{"field":"r","type":"quantitative","legend":null,"scale":{"domain":[-0.9,0,0.9],"range":["#3a7bb8","#ffffbb","#ff6648"],"interpolate":"rgb"}}}},
{"transform":[{"filter":"datum.s"}],"mark":{"type":"text","font":"Liberation Sans","fontSize":16,"color":"#444","dy":1.6,"baseline":"middle"},"encoding":{"text":{"field":"s"}}}]},
{"width":1,"height":1,"data":{"name":"sp"},"mark":{"type":"point","opacity":0}},
{"width":16,"height":549,"data":{"values":[{"lo":-0.9,"hi":0.9}]},"mark":{"type":"rect","color":{"gradient":"linear","x1":0,"y1":0,"x2":0,"y2":1,"stops":[{"offset":0,"color":"#ff6648"},{"offset":0.5,"color":"#ffffbb"},{"offset":1,"color":"#3a7bb8"}]}},"encoding":{"y":{"field":"lo","type":"quantitative","scale":{"domain":[-0.9,0.9],"range":[259,30],"nice":false,"zero":false},"axis":{"orient":"right","values":[-0.9,-0.45,0,0.45,0.9],"format":".2~f","labelFontSize":14,"labelColor":"#222","labelPadding":6,"labelOverlap":false,"labelFlush":false}},"y2":{"field":"hi"}}},

{"width":79,"height":198,"data":{"name":"cap"},"encoding":{"y":{"field":"line","type":"quantitative","axis":null,"scale":{"domain":[0,3],"range":[94,164],"nice":false,"zero":false}},"text":{"field":"text"}},"layer":[
{"transform":[{"filter":"datum.line == 0"}],"mark":{"type":"text","font":"Noto Sans","fontWeight":"bold","fontSize":14,"color":"#8a8a8a","align":"left","dx":-6.5,"baseline":"middle"}},
{"transform":[{"filter":"datum.line > 0"}],"mark":{"type":"text","font":"Open Sans","fontSize":17.9,"color":"#757575","align":"left","dx":-6.5,"baseline":"middle"}}]}
]}
